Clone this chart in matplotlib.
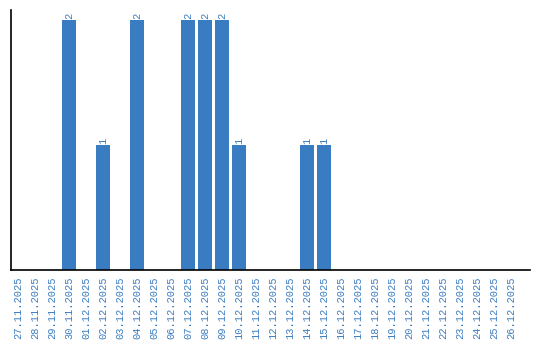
import numpy as np
import matplotlib
matplotlib.use("Agg")
from matplotlib import pyplot as plt

days = ["27.11.2025", "28.11.2025", "29.11.2025", "30.11.2025", "01.12.2025",
        "02.12.2025", "03.12.2025", "04.12.2025", "05.12.2025", "06.12.2025",
        "07.12.2025", "08.12.2025", "09.12.2025", "10.12.2025", "11.12.2025",
        "12.12.2025", "13.12.2025", "14.12.2025", "15.12.2025", "16.12.2025",
        "17.12.2025", "18.12.2025", "19.12.2025", "20.12.2025", "21.12.2025",
        "22.12.2025", "23.12.2025", "24.12.2025", "25.12.2025", "26.12.2025"]
counts = [0, 0, 0, 2, 0, 1, 0, 2, 0, 0, 2, 2, 2, 1, 0, 0, 0, 1, 1, 0,
          0, 0, 0, 0, 0, 0, 0, 0, 0, 0]

blue = "#3a7cc1"
fig = plt.figure(figsize=(5.4, 3.4), dpi=100)
ax = fig.add_axes([11 / 540, 70 / 340, 519 / 540, 260 / 340])

x = np.arange(len(days))
bars = ax.bar(x, counts, width=0.82, color=blue)
for xi, c in zip(x, counts):
    if c > 0:
        ax.text(xi, c + 0.01, str(c), rotation=90, ha="center", va="bottom",
                color=blue, fontsize=7.5, family="Liberation Mono")

ax.set_xlim(-0.41, 30.1)
ax.set_ylim(0, 2.08)
ax.set_xticks(x)
ax.set_xticklabels(days, rotation=90, color=blue, fontsize=7.5, family="Liberation Mono")
ax.tick_params(axis="x", length=0, pad=5)
ax.set_yticks([])
for s in ["top", "right"]:
    ax.spines[s].set_visible(False)
ax.spines["left"].set_linewidth(1.2)
ax.spines["bottom"].set_linewidth(1.2)

fig.savefig("out.png", dpi=100)
